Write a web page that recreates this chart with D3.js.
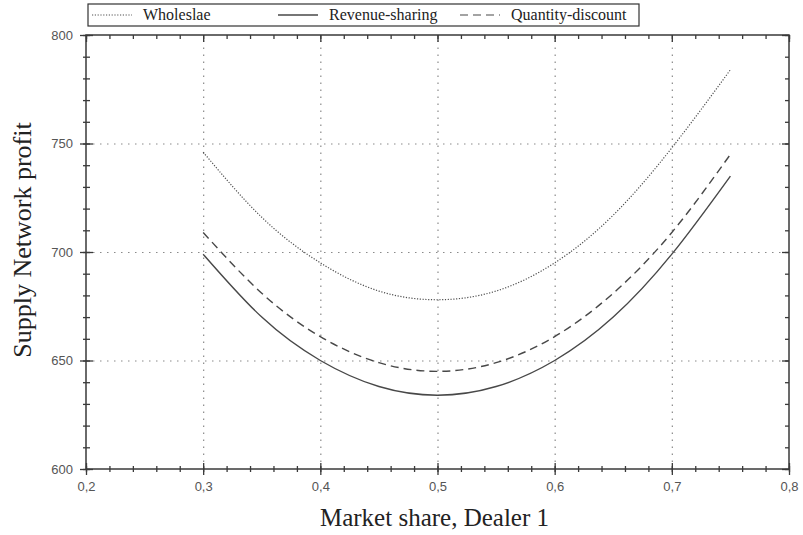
<!DOCTYPE html>
<html>
<head>
<meta charset="utf-8">
<script src="https://cdn.jsdelivr.net/npm/d3@7"></script>
<style>
  body { margin: 0; background: #fff; }
  svg { display: block; }
</style>
</head>
<body>
<svg id="chart" width="803" height="535"></svg>
<script>
// Market share of dealer 1 and the supply network profit under each contract
const shares = [0.30, 0.35, 0.40, 0.45, 0.50, 0.55, 0.60, 0.65, 0.70, 0.75];
const wholesale = [746, 716, 695, 682, 678, 682, 695, 717, 748, 784];
const revenueSharing = [699, 670, 650, 638, 634, 638, 650, 670, 699, 735];
const quantityDiscount = [709, 681, 661, 649, 645, 649, 661, 681, 709, 745];

const seriesNames = ["Wholeslae", "Revenue-sharing", "Quantity-discount"];

const xTicks = [0.2, 0.3, 0.4, 0.5, 0.6, 0.7, 0.8];
const xTickLabels = ["0,2", "0,3", "0,4", "0,5", "0,6", "0,7", "0,8"];
const xMinorTicks = d3.range(0.2, 0.8001, 0.02);
const yTicks = [600, 650, 700, 750, 800];
const yTickLabels = ["600", "650", "700", "750", "800"];
const yMinorTicks = d3.range(600, 800.01, 10);

const svg = d3.select("#chart");
const plotLeft = 86, plotRight = 789, plotTop = 35, plotBottom = 469;

const x = d3.scaleLinear().domain([0.2, 0.8]).range([plotLeft, plotRight]);
const y = d3.scaleLinear().domain([600, 800]).range([plotBottom, plotTop]);

const axisColor = "#3a3a3a";
const labelColor = "#555";

// dotted grid at the interior major ticks
const gridX = svg.append("g")
  .attr("transform", `translate(0,${plotBottom})`)
  .call(d3.axisBottom(x).tickValues(xTicks.slice(1, -1)).tickSize(-(plotBottom - plotTop)).tickFormat(""));
const gridY = svg.append("g")
  .attr("transform", `translate(${plotLeft},0)`)
  .call(d3.axisLeft(y).tickValues(yTicks.slice(1, -1)).tickSize(-(plotRight - plotLeft)).tickFormat(""));
[gridX, gridY].forEach(g => {
  g.select(".domain").remove();
  g.selectAll("line")
    .attr("stroke", "#8a8a8a")
    .attr("stroke-width", 1.2)
    .attr("stroke-dasharray", "1.5,5.5");
});

// series lines
const line = d3.line()
  .x(d => x(d[0]))
  .y(d => y(d[1]))
  .curve(d3.curveNatural);

const series = [
  { name: seriesNames[0], values: wholesale, dash: "1.2,1.6", width: 1.2, color: "#505050" },
  { name: seriesNames[1], values: revenueSharing, dash: null, width: 1.4, color: "#484848" },
  { name: seriesNames[2], values: quantityDiscount, dash: "8,5", width: 1.4, color: "#484848" }
];

series.forEach(s => {
  svg.append("path")
    .datum(shares.map((v, i) => [v, s.values[i]]))
    .attr("fill", "none")
    .attr("stroke", s.color)
    .attr("stroke-width", s.width)
    .attr("stroke-dasharray", s.dash)
    .attr("d", line);
});

// frame
svg.append("rect")
  .attr("x", plotLeft).attr("y", plotTop)
  .attr("width", plotRight - plotLeft).attr("height", plotBottom - plotTop)
  .attr("fill", "none")
  .attr("stroke", axisColor)
  .attr("stroke-width", 1.5);

function styleAxis(g) {
  g.select(".domain").remove();
  g.selectAll("line").attr("stroke", axisColor).attr("stroke-width", 1.3);
}

// bottom axis: crossing major and minor ticks
const xMinor = svg.append("g").attr("transform", `translate(0,${plotBottom})`)
  .call(d3.axisBottom(x).tickValues(xMinorTicks).tickSize(3).tickFormat(""));
styleAxis(xMinor);
xMinor.selectAll("line").attr("y1", -3);

const xAxis = svg.append("g").attr("transform", `translate(0,${plotBottom})`)
  .call(d3.axisBottom(x).tickValues(xTicks).tickSize(6)
    .tickFormat((d, i) => xTickLabels[i]));
styleAxis(xAxis);
xAxis.selectAll("line").attr("y1", -6);
xAxis.selectAll("text")
  .attr("y", 13)
  .attr("fill", labelColor)
  .style("font-family", "Liberation Sans, Arial, sans-serif")
  .style("font-size", "13px");

// left axis
const yMinor = svg.append("g").attr("transform", `translate(${plotLeft},0)`)
  .call(d3.axisLeft(y).tickValues(yMinorTicks).tickSize(3).tickFormat(""));
styleAxis(yMinor);
yMinor.selectAll("line").attr("x1", 4);

const yAxis = svg.append("g").attr("transform", `translate(${plotLeft},0)`)
  .call(d3.axisLeft(y).tickValues(yTicks).tickSize(6).tickPadding(7)
    .tickFormat((d, i) => yTickLabels[i]));
styleAxis(yAxis);
yAxis.selectAll("line").attr("x1", 7);
yAxis.selectAll("text")
  .attr("fill", labelColor)
  .style("font-family", "Liberation Sans, Arial, sans-serif")
  .style("font-size", "13px");

// top and right axes: inward ticks only
const xTop = svg.append("g").attr("transform", `translate(0,${plotTop})`)
  .call(d3.axisTop(x).tickValues(xMinorTicks).tickSize(-4).tickFormat(""));
styleAxis(xTop);
const xTopMajor = svg.append("g").attr("transform", `translate(0,${plotTop})`)
  .call(d3.axisTop(x).tickValues(xTicks).tickSize(-7).tickFormat(""));
styleAxis(xTopMajor);

const yRight = svg.append("g").attr("transform", `translate(${plotRight},0)`)
  .call(d3.axisRight(y).tickValues(yMinorTicks).tickSize(-4).tickFormat(""));
styleAxis(yRight);
const yRightMajor = svg.append("g").attr("transform", `translate(${plotRight},0)`)
  .call(d3.axisRight(y).tickValues(yTicks).tickSize(-7).tickFormat(""));
styleAxis(yRightMajor);

// axis titles
svg.append("text")
  .attr("x", (plotLeft + plotRight) / 2 - 3)
  .attr("y", 526)
  .attr("text-anchor", "middle")
  .attr("fill", "#222")
  .style("font-family", "Liberation Serif, Times New Roman, serif")
  .style("font-size", "25px")
  .text("Market share, Dealer 1");

svg.append("text")
  .attr("transform", `translate(31,${(plotTop + plotBottom) / 2 - 12}) rotate(-90)`)
  .attr("text-anchor", "middle")
  .attr("fill", "#222")
  .style("font-family", "Liberation Serif, Times New Roman, serif")
  .style("font-size", "26px")
  .text("Supply Network profit");

// legend
const legend = svg.append("g");
legend.append("rect")
  .attr("x", 88).attr("y", 4)
  .attr("width", 551).attr("height", 22)
  .attr("fill", "#fff")
  .attr("stroke", "#333")
  .attr("stroke-width", 1.2);

const legendX = [92, 278, 460];
series.forEach((s, i) => {
  legend.append("line")
    .attr("x1", legendX[i]).attr("x2", legendX[i] + 40)
    .attr("y1", 15).attr("y2", 15)
    .attr("stroke", s.color)
    .attr("stroke-width", s.dash ? 1.2 : 1.3)
    .attr("stroke-dasharray", s.dash);
  legend.append("text")
    .attr("x", legendX[i] + 51)
    .attr("y", 20)
    .attr("fill", "#222")
    .style("font-family", "Liberation Serif, Times New Roman, serif")
    .style("font-size", "16px")
    .text(s.name);
});
</script>
</body>
</html>
